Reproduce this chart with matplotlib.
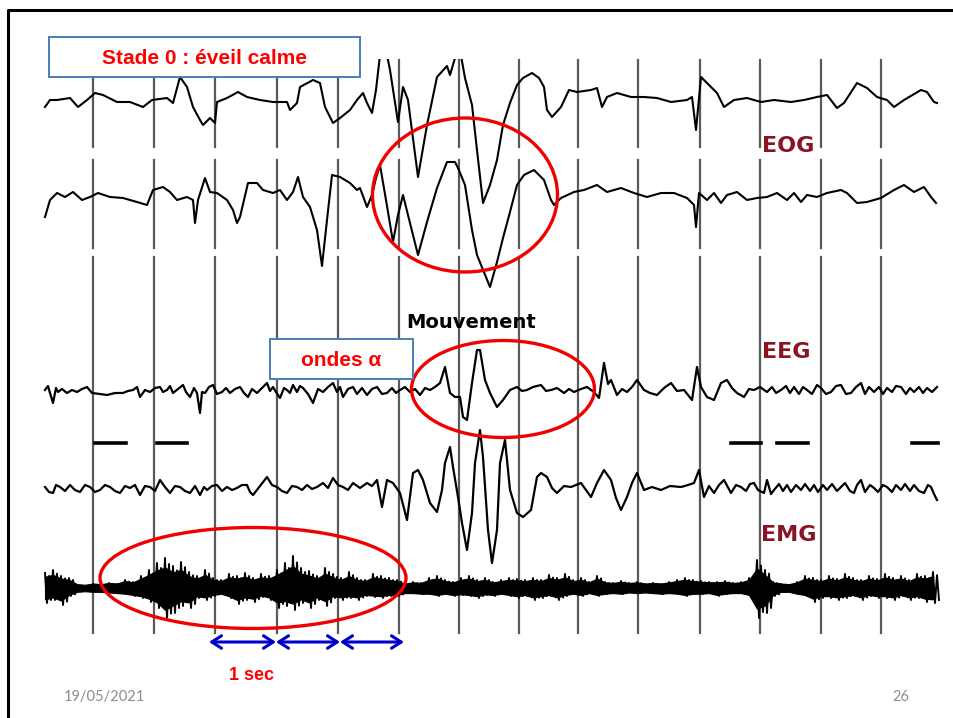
import numpy as np
import matplotlib
matplotlib.use("Agg")
import matplotlib.pyplot as plt
from matplotlib.patches import Ellipse, Rectangle

# ---------------- data (time in px-columns, amplitude in arbitrary units, + = up) ----------
eog1 = [(45,-7),(50,0),(57,0),(70,2),(78,-7),(87,0),(95,7),(103,5),(117,-2),(130,-2),(143,-7),(152,0),
        (167,2),(173,-3),(180,23),(187,13),(193,-7),(200,-20),(203,-25),(210,-18),(215,-23),(217,-2),
        (227,2),(238,8),(247,3),(260,0),(273,-2),(287,-2),(290,-10),(297,-3),(300,13),(313,20),(320,17),
        (325,-7),(333,-23),(340,-18),(350,-10),(357,0),(363,7),(367,-3),(372,-13),(376,10),(380,45),
        (385,55),(390,30),(398,-22),(403,13),(408,0),(418,-77),(427,-25),(437,23),(447,34),(450,25),
        (455,42),(460,50),(465,22),(472,-5),(477,-50),(483,-103),(490,-85),(497,-60),(503,-25),(510,-3),
        (517,15),(523,22),(532,27),(539,22),(544,13),(547,-10),(552,-17),(561,-7),(569,10),(577,8),
        (591,10),(597,12),(602,-7),(607,3),(617,7),(631,3),(644,3),(657,2),(671,-2),(687,0),(692,3),
        (696,-30),(701,23),(707,17),(717,7),(724,-7),(734,0),(747,2),(761,-2),(774,0),(791,-2),(804,0),
        (817,3),(827,5),(837,-8),(844,-3),(857,17),(867,12),(877,3),(887,0),(894,-7),(904,0),(921,10),
        (927,8),(934,-2),(937,-3)]

eog2 = [(45,-22),(50,-5),(57,2),(65,-2),(73,3),(82,-5),(90,-2),(98,2),(110,-2),(123,-3),(137,-7),(147,-10),
        (153,5),(163,8),(170,3),(177,-5),(187,-2),(193,-5),(195,-28),(198,-5),(205,17),(210,3),(217,2),
        (227,-5),(233,-15),(237,-28),(240,-22),(248,12),(257,12),(263,5),(273,2),(280,5),(287,-5),(293,3),
        (298,18),(303,-2),(310,-12),(317,-35),(322,-71),(327,-25),(332,20),(340,18),(350,12),(357,5),
        (360,7),(367,-12),(372,0),(376,17),(380,30),(386,-5),(393,-47),(398,-20),(403,0),(408,-20),
        (418,-60),(427,-27),(437,7),(447,33),(455,33),(458,27),(465,10),(472,-35),(477,-60),(490,-92),
        (497,-67),(503,-43),(510,-17),(517,10),(524,20),(534,25),(544,15),(551,-5),(554,-10),(561,-3),
        (574,3),(584,5),(597,10),(607,3),(621,7),(634,2),(647,-2),(661,2),(674,2),(687,-3),(694,-10),
        (696,-32),(699,2),(707,-5),(714,2),(721,-8),(727,0),(737,3),(747,-5),(757,-3),(767,-2),(777,2),
        (787,-5),(794,2),(801,-7),(807,0),(817,-2),(827,2),(841,5),(847,2),(857,-8),(867,-7),(881,-3),
        (894,5),(904,10),(914,3),(924,8),(931,-2),(936,-8)]

eeg1 = [(45,0),(48,4),(50,-3),(53,-13),(56,2),(58,-2),(62,1),(67,-3),(72,0),(77,-2),(82,1),(87,3),(92,-3),
        (100,-4),(107,-5),(115,-3),(123,-3),(128,-1),(133,0),(137,3),(140,-7),(145,0),(150,-2),(155,2),
        (160,3),(163,-2),(167,0),(170,4),(173,-3),(178,1),(183,5),(186,-2),(190,-7),(194,2),(197,-3),
        (200,-23),(202,-2),(205,-3),(209,3),(213,5),(217,-4),(222,-2),(226,2),(230,-3),(235,1),(240,3),
        (244,-3),(248,-7),(252,1),(257,-3),(262,2),(267,7),(270,-1),(273,3),(276,-2),(280,-8),(284,2),
        (287,0),(290,-3),(293,5),(297,-2),(300,4),(303,2),(308,-4),(313,-13),(318,1),(323,-2),(328,3),
        (333,7),(337,-2),(340,3),(343,-7),(348,1),(353,3),(357,-4),(362,2),(367,-5),(372,1),(377,3),
        (382,-4),(387,-3),(392,2),(396,-3),(400,0),(405,3),(410,-2),(415,1),(420,-5),(425,2),(430,0),
        (435,3),(440,7),(445,23),(450,-3),(455,-7),(460,-7),(463,-27),(467,-30),(472,7),(477,40),(480,40),
        (485,10),(490,-3),(497,-17),(503,-10),(510,0),(517,3),(522,-1),(527,0),(533,3),(541,5),(546,-1),
        (551,0),(557,2),(564,-3),(569,1),(574,-2),(581,1),(587,3),(594,-2),(599,-8),(604,27),(608,6),
        (611,10),(617,-5),(622,1),(627,-2),(632,3),(637,10),(644,0),(650,-3),(657,-5),(664,2),(671,7),
        (677,-1),(684,0),(692,-10),(697,23),(701,3),(707,-7),(714,-10),(721,7),(727,10),(732,2),(737,-3),
        (744,-7),(749,1),(754,0),(760,3),(767,-2),(772,3),(776,-3),(781,0),(786,4),(790,-3),(794,3),
        (799,-4),(803,3),(807,0),(812,-4),(817,5),(821,2),(826,-4),(831,-2),(836,4),(841,5),(846,-4),
        (851,-3),(856,3),(861,7),(865,-4),(869,3),(874,-2),(879,3),(883,-4),(887,2),(892,-2),(896,4),
        (901,3),(906,-4),(910,2),(914,-2),(919,3),(923,-3),(927,2),(932,-2),(937,3)]

eeg2 = [(45,1),(49,-4),(53,-5),(56,3),(60,1),(65,-3),(70,3),(75,-2),(80,-4),(85,3),(90,1),(95,-4),(100,-2),
        (105,3),(110,1),(115,-3),(120,-5),(125,2),(130,0),(135,3),(140,-7),(145,2),(150,1),(155,-3),
        (160,8),(165,1),(170,-5),(175,2),(180,1),(185,-3),(190,-5),(195,2),(200,-7),(204,1),(207,-2),
        (212,2),(217,3),(222,-3),(227,1),(232,-2),(237,0),(242,3),(247,3),(250,-4),(253,-7),(260,2),
        (267,11),(272,3),(277,1),(282,-3),(287,-5),(292,2),(297,1),(302,-2),(307,3),(312,-1),(317,1),
        (323,5),(328,0),(333,10),(338,3),(343,1),(348,-2),(353,5),(360,0),(367,5),(372,2),(377,8),
        (382,-19),(387,8),(393,5),(400,-5),(407,-32),(413,15),(418,18),(423,8),(430,-15),(437,-24),
        (442,-2),(445,25),(450,41),(453,21),(458,-9),(462,-35),(467,-62),(472,-25),(475,25),(480,58),
        (483,31),(488,-42),(492,-75),(497,-42),(500,25),(505,48),(510,-2),(517,-25),(523,-29),(531,-22),
        (537,11),(541,15),(547,11),(552,0),(557,-5),(564,2),(571,1),(576,3),(581,5),(586,-2),(591,-9),
        (597,5),(604,18),(611,8),(616,-10),(621,-22),(627,-9),(632,5),(637,15),(644,-2),(652,1),(661,-2),
        (670,2),(681,1),(688,3),(694,5),(699,18),(704,-9),(709,2),(714,-5),(719,3),(724,8),(731,-5),
        (736,3),(741,1),(746,-3),(750,4),(754,5),(758,-2),(764,-5),(767,8),(771,-6),(774,-2),(779,4),
        (783,-3),(787,3),(791,-4),(796,3),(801,-2),(805,4),(810,-3),(814,3),(818,-4),(823,3),(827,-2),
        (832,4),(837,-3),(841,1),(845,5),(850,-3),(854,-5),(857,3),(861,8),(865,-4),(870,3),(874,0),
        (878,-4),(883,3),(887,1),(892,-4),(896,3),(901,-2),(905,4),(910,-3),(914,3),(919,-3),(924,-5),
        (928,3),(931,1),(934,-6),(937,-12)]

# EMG envelope (upper / lower amplitude), one value per 8-column bin starting at column 45
emg_up = [15,18,12,10,3,2,4,3,5,4,8,6,12,18,25,30,22,26,16,12,18,10,8,14,12,15,10,14,12,18,25,32,20,17,
          12,20,14,10,16,10,8,14,12,10,8,4,6,5,10,12,8,6,10,12,8,10,6,8,10,9,8,10,8,13,10,14,8,10,6,12,
          6,5,7,5,6,4,5,4,6,8,10,8,7,6,6,7,5,6,10,28,18,6,4,3,6,12,10,8,12,9,14,10,8,12,9,14,10,12,8,14,
          12,16]
emg_lo = [15,12,17,8,3,2,3,3,4,5,6,8,10,14,20,32,25,18,20,10,12,8,6,10,16,12,14,9,12,20,18,22,15,20,
          12,18,10,12,10,12,8,9,10,8,8,5,5,6,6,8,6,8,7,8,10,7,8,6,8,10,8,12,10,8,12,8,6,8,5,8,6,5,6,4,
          5,4,5,6,5,6,8,6,6,5,8,6,5,5,8,30,25,8,3,3,6,8,14,10,10,12,10,8,12,8,10,10,12,8,12,10,14,15]

grid_t = [93, 154, 215, 277, 338, 399, 459, 519, 578, 638, 700, 760, 821, 881]
marker_bars = [(95, 126), (157, 187), (731, 761), (777, 808), (912, 938)]
sec_arrows = [(209, 276), (276, 340), (340, 404)]

# ---------------- layout ----------------
W, H = 954, 718
fig = plt.figure(figsize=(W / 100, H / 100), dpi=100)
ax = fig.add_axes([0, 0, 1, 1])
ax.set_xlim(0, W)
ax.set_ylim(H, 0)
ax.axis("off")

base = {"eog1": 100, "eog2": 195, "eeg1": 390, "eeg2": 488, "emg": 588}
clip = Rectangle((0, 59), W, 590, transform=ax.transData, visible=False)
ax.add_patch(clip)

# slide frame
ax.plot([8, 8, W + 5], [H + 5, 10, 10], color="black", lw=2.2, solid_capstyle="butt", zorder=1)

# vertical time grid with small breaks
segs = [(60, 147), (160, 248), (257, 633)]
for gx in grid_t:
    for a, b in segs:
        ax.plot([gx, gx], [a, b], color="#5a5a5a", lw=1.6, zorder=2)

# traces
def draw(trace, key, lw):
    t = np.array([p[0] for p in trace], float)
    v = np.array([p[1] for p in trace], float)
    ln, = ax.plot(t, base[key] - v, color="black", lw=lw, zorder=3, solid_joinstyle="round")
    ln.set_clip_path(clip)

draw(eog1, "eog1", 1.5)
draw(eog2, "eog2", 1.5)
draw(eeg1, "eeg1", 1.6)
draw(eeg2, "eeg2", 1.6)

# EMG: dense black body plus zig-zag spikes reaching the envelope
up = np.array(emg_up, float)
lo = np.array(emg_lo, float)
n = len(up)
t_emg = 45 + 8 * np.arange(n)
ax.fill_between(t_emg, base["emg"] - 0.62 * up - 2, base["emg"] + 0.62 * lo + 2,
                color="black", lw=0.8, zorder=3)
tz = np.empty(4 * n)
yz = np.empty(4 * n)
tz[0::4] = t_emg
tz[1::4] = t_emg + 2
tz[2::4] = t_emg + 4
tz[3::4] = t_emg + 6
yz[0::4] = base["emg"] - up
yz[1::4] = base["emg"] + lo
yz[2::4] = base["emg"] - 0.8 * up
yz[3::4] = base["emg"] + 0.8 * lo
ax.plot(tz, yz, color="black", lw=1.4, zorder=3)

for a, b in marker_bars:
    ax.plot([a, b], [443, 443], color="black", lw=2.6, zorder=3)

# channel labels
lab = dict(color="#8b1424", fontsize=16, fontweight="bold", ha="center", va="center",
           family="DejaVu Sans", zorder=5)
ax.text(788, 146, "EOG", **lab)
ax.text(786, 352, "EEG", **lab)
ax.text(789, 535, "EMG", **lab)
ax.text(471, 323, "Mouvement", color="black", fontsize=14, fontweight="bold",
        ha="center", va="center", family="DejaVu Sans", zorder=5)

# red ellipses
for cx, cy, w, h in [(465, 195, 185, 154), (503, 389, 183, 97), (253, 578, 306, 101)]:
    ax.add_patch(Ellipse((cx, cy), w, h, fill=False, edgecolor="#f00000", lw=2.4, zorder=6))

# text boxes
narrow = ["Liberation Sans Narrow", "Liberation Sans", "DejaVu Sans"]
for (x0, y0, x1, y1), txt in [((49, 37, 360, 77), "Stade 0 : éveil calme"),
                              ((270, 339, 413, 379), "ondes α")]:
    ax.add_patch(Rectangle((x0, y0), x1 - x0, y1 - y0, facecolor="white",
                           edgecolor="#4a7ebb", lw=1.4, zorder=7))
    ax.text((x0 + x1) / 2, (y0 + y1) / 2 + 1, txt, color="#ff0000", fontsize=15,
            fontweight="bold", ha="center", va="center", family=narrow, zorder=8)

# 1 sec arrows
for a, b in sec_arrows:
    ax.annotate("", xy=(b, 642), xytext=(a, 642),
                arrowprops=dict(arrowstyle="<->,head_length=0.7,head_width=0.45",
                                color="#0000cc", lw=2.2, shrinkA=0, shrinkB=0), zorder=6)
ax.text(252, 676, "1 sec", color="#ff0000", fontsize=13, fontweight="bold",
        ha="center", va="center", family=narrow, zorder=6)

# footer
ax.text(104, 697, "19/05/2021", color="#8c8c8c", fontsize=10.5, ha="center", va="center",
        family=["Lato", "DejaVu Sans"])
ax.text(901, 697, "26", color="#8c8c8c", fontsize=10.5, ha="center", va="center",
        family=["Lato", "DejaVu Sans"])

fig.savefig("out.png", dpi=100)
